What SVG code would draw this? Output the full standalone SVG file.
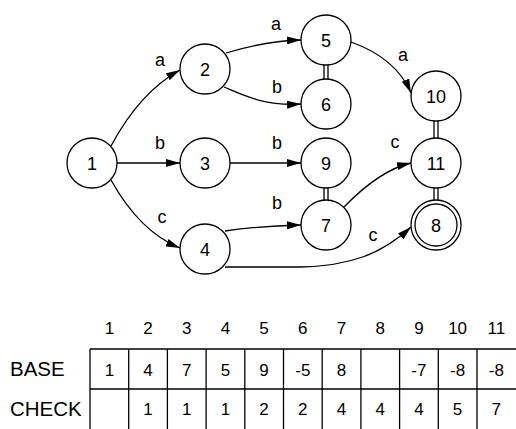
<svg xmlns="http://www.w3.org/2000/svg" width="516" height="429" viewBox="0 0 516 429">
  <style>
    text { font-family: "Liberation Sans", Arial, Helvetica, sans-serif; fill: #000; }
    .node circle { fill: #fff; stroke: #000; stroke-width: 1.3; }
    .num { font-size: 18px; text-anchor: middle; }
    .lbl { font-size: 18px; text-anchor: middle; }
    .edge { fill: none; stroke: #000; stroke-width: 1.3; }
    .arrow { marker-end: url(#head); }
    .grid line { stroke: #000; stroke-width: 1.3; }
    .cell { font-size: 17px; text-anchor: middle; }
    .row { font-size: 20.5px; }
  </style>
  <defs>
    <marker id="head" viewBox="0 0 14 8" refX="14" refY="4" markerWidth="14" markerHeight="8" markerUnits="userSpaceOnUse" orient="auto">
      <path d="M0,0 L14,4 L0,8 z" fill="#000"/>
    </marker>
  </defs>

  <!-- transitions -->
  <g id="connectors">
    <path class="edge arrow" d="M111,146 Q140,92 180,70"/>
    <path class="edge arrow" d="M117,163 L180,163"/>
    <path class="edge arrow" d="M111,180 Q140,232 180,248"/>
    <path class="edge arrow" d="M226,53 Q265,41 301,40"/>
    <path class="edge arrow" d="M224,87 C245,96 265,106 301,104"/>
    <path class="edge arrow" d="M230,163 L301,163"/>
    <path class="edge arrow" d="M225,231 Q260,226 301,225"/>
    <path class="edge arrow" d="M225,267 L300,267 C350,266 382,254 411,227"/>
    <path class="edge arrow" d="M351,42 Q396,58 411,93"/>
    <path class="edge arrow" d="M344,207 Q380,170 411,163"/>
    <!-- double links between stacked states -->
    <path class="edge" d="M324,65 L324,79 M328,65 L328,79"/>
    <path class="edge" d="M324,188 L324,200 M328,188 L328,200"/>
    <path class="edge" d="M434,121 L434,138 M438,121 L438,138"/>
    <path class="edge" d="M434,188 L434,200 M438,188 L438,200"/>
    <text class="lbl" x="160" y="66">a</text>
    <text class="lbl" x="160" y="149">b</text>
    <text class="lbl" x="162" y="223">c</text>
    <text class="lbl" x="276" y="30">a</text>
    <text class="lbl" x="277" y="93">b</text>
    <text class="lbl" x="277" y="149">b</text>
    <text class="lbl" x="277" y="209">b</text>
    <text class="lbl" x="403" y="61">a</text>
    <text class="lbl" x="395" y="148">c</text>
    <text class="lbl" x="373" y="241">c</text>
  </g>

  <g id="n1" class="node"><circle cx="92" cy="163" r="25"/><text class="num" x="92" y="169.5">1</text></g>
  <g id="n2" class="node"><circle cx="205" cy="69" r="25"/><text class="num" x="205" y="75.5">2</text></g>
  <g id="n3" class="node"><circle cx="205" cy="163" r="25"/><text class="num" x="205" y="169.5">3</text></g>
  <g id="n4" class="node"><circle cx="205" cy="249" r="25"/><text class="num" x="205" y="255.5">4</text></g>
  <g id="n5" class="node"><circle cx="326" cy="40" r="25"/><text class="num" x="326" y="46.5">5</text></g>
  <g id="n6" class="node"><circle cx="326" cy="104" r="25"/><text class="num" x="326" y="110.5">6</text></g>
  <g id="n9" class="node"><circle cx="326" cy="163" r="25"/><text class="num" x="326" y="169.5">9</text></g>
  <g id="n7" class="node"><circle cx="326" cy="225" r="25"/><text class="num" x="326" y="231.5">7</text></g>
  <g id="n10" class="node"><circle cx="436" cy="96" r="25"/><text class="num" x="436" y="102.5">10</text></g>
  <g id="n11" class="node"><circle cx="436" cy="163" r="25"/><text class="num" x="436" y="169.5">11</text></g>
  <g id="n8" class="node"><circle cx="436" cy="225" r="25"/><circle cx="436" cy="225" r="21"/><text class="num" x="436" y="231.5">8</text></g>

  <!-- double-array table -->
  <g id="table">
    <g class="grid">
      <line x1="90" y1="349" x2="516" y2="349"/>
      <line x1="90" y1="389" x2="516" y2="389"/>
      <line x1="90" y1="349" x2="90" y2="429"/>
      <line x1="128.7" y1="349" x2="128.7" y2="429"/>
      <line x1="167.4" y1="349" x2="167.4" y2="429"/>
      <line x1="206.1" y1="349" x2="206.1" y2="429"/>
      <line x1="244.8" y1="349" x2="244.8" y2="429"/>
      <line x1="283.5" y1="349" x2="283.5" y2="429"/>
      <line x1="322.2" y1="349" x2="322.2" y2="429"/>
      <line x1="360.9" y1="349" x2="360.9" y2="429"/>
      <line x1="399.6" y1="349" x2="399.6" y2="429"/>
      <line x1="438.3" y1="349" x2="438.3" y2="429"/>
      <line x1="477" y1="349" x2="477" y2="429"/>
    </g>
    <text class="row" x="10" y="376">BASE</text>
    <text class="row" x="10" y="416">CHECK</text>
    <g class="cell">
      <text x="109.4" y="334">1</text>
      <text x="148" y="334">2</text>
      <text x="186.7" y="334">3</text>
      <text x="225.4" y="334">4</text>
      <text x="264.1" y="334">5</text>
      <text x="302.8" y="334">6</text>
      <text x="341.5" y="334">7</text>
      <text x="380.2" y="334">8</text>
      <text x="418.9" y="334">9</text>
      <text x="457.6" y="334">10</text>
      <text x="496.3" y="334">11</text>

      <text x="109.4" y="376">1</text>
      <text x="148" y="376">4</text>
      <text x="186.7" y="376">7</text>
      <text x="225.4" y="376">5</text>
      <text x="264.1" y="376">9</text>
      <text x="302.8" y="376">-5</text>
      <text x="341.5" y="376">8</text>
      <text x="418.9" y="376">-7</text>
      <text x="457.6" y="376">-8</text>
      <text x="496.3" y="376">-8</text>

      <text x="148" y="415">1</text>
      <text x="186.7" y="415">1</text>
      <text x="225.4" y="415">1</text>
      <text x="264.1" y="415">2</text>
      <text x="302.8" y="415">2</text>
      <text x="341.5" y="415">4</text>
      <text x="380.2" y="415">4</text>
      <text x="418.9" y="415">4</text>
      <text x="457.6" y="415">5</text>
      <text x="496.3" y="415">7</text>
    </g>
  </g>
</svg>
